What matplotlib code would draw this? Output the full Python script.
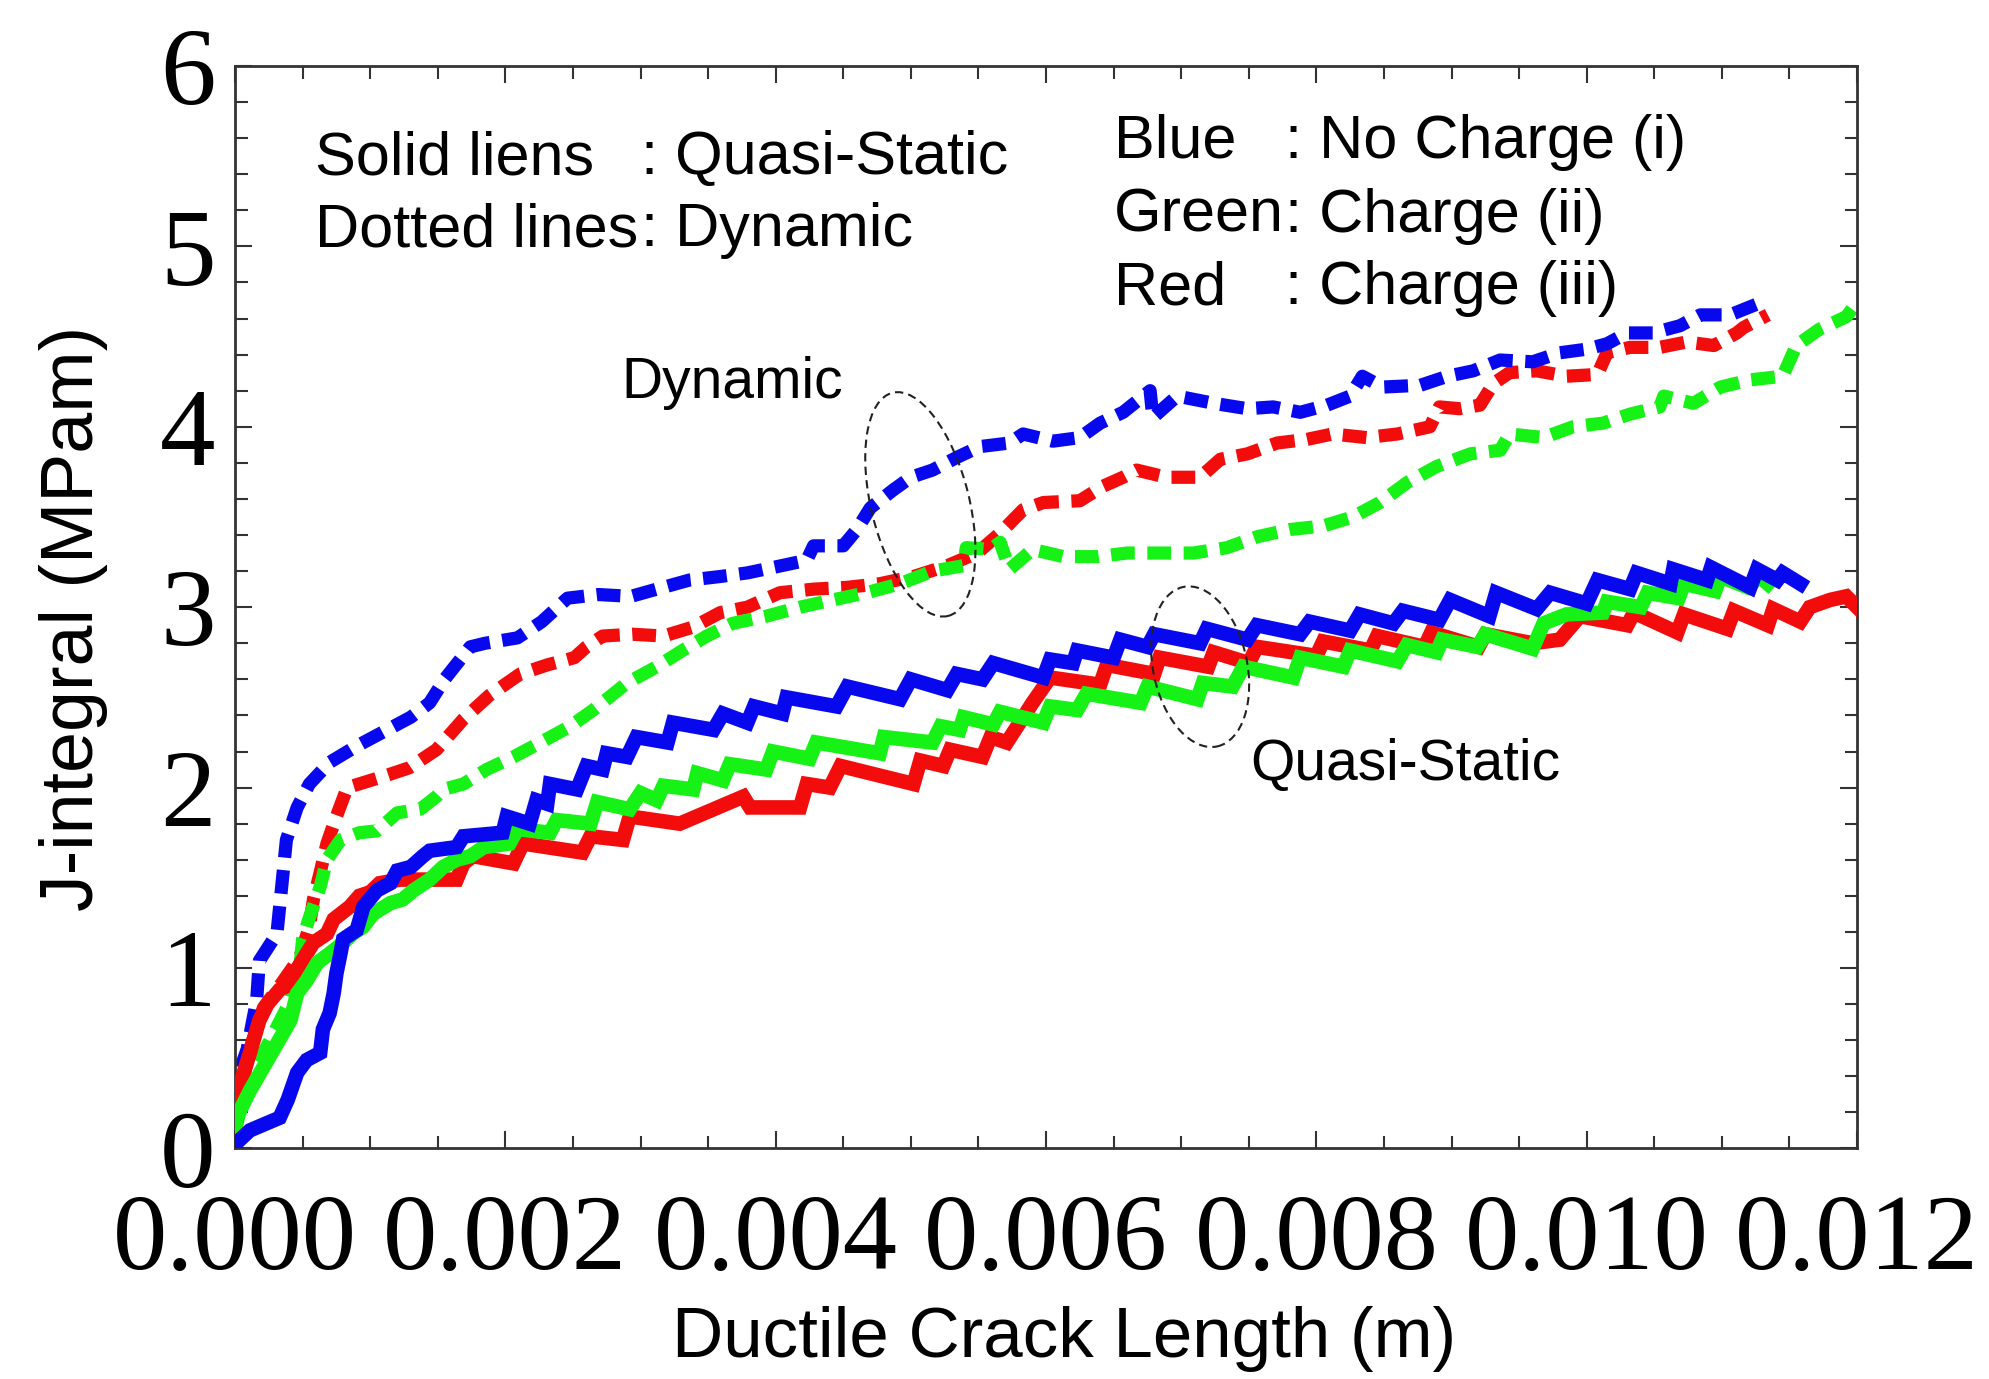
import numpy as np
import matplotlib
matplotlib.use('Agg')
import matplotlib.pyplot as plt
from matplotlib.patches import Ellipse
from matplotlib.transforms import ScaledTranslation
from matplotlib.ticker import MultipleLocator, FormatStrFormatter

plt.rcParams['font.family'] = 'Liberation Serif'

# crack length [m], J-integral [MPa m]
# dotted lines: dynamic
blue_dyn = [(0.0, 0.05), (0.00001, 0.38), (0.00009, 0.55), (0.00016, 0.82), (0.00018, 1.04),
            (0.00031, 1.19), (0.00036, 1.56), (0.00038, 1.71), (0.00046, 1.89), (0.00055, 2.02),
            (0.0007, 2.14), (0.0009, 2.23), (0.0011, 2.31), (0.0013, 2.39), (0.00144, 2.47),
            (0.00155, 2.60), (0.00174, 2.78), (0.00185, 2.80), (0.00209, 2.83), (0.00227, 2.92),
            (0.00246, 3.05), (0.00269, 3.07), (0.00293, 3.06), (0.00312, 3.10), (0.00336, 3.15),
            (0.00359, 3.17), (0.00379, 3.19), (0.00398, 3.22), (0.00423, 3.26), (0.00428, 3.34),
            (0.0045, 3.34), (0.0046, 3.43), (0.0047, 3.55), (0.00487, 3.65), (0.005, 3.72),
            (0.00516, 3.76), (0.00534, 3.83), (0.00551, 3.89), (0.00573, 3.91), (0.00583, 3.96),
            (0.00605, 3.92), (0.00625, 3.94), (0.0064, 4.02), (0.00657, 4.08), (0.00677, 4.20),
            (0.00679, 4.05), (0.00697, 4.17), (0.00724, 4.13), (0.00749, 4.10), (0.00768, 4.11),
            (0.00788, 4.08), (0.00808, 4.12), (0.00825, 4.17), (0.00834, 4.28), (0.00849, 4.22),
            (0.00877, 4.23), (0.00897, 4.28), (0.00916, 4.31), (0.00936, 4.37), (0.0096, 4.36),
            (0.0098, 4.41), (0.0100, 4.43), (0.01015, 4.46), (0.0103, 4.52), (0.01049, 4.52),
            (0.01069, 4.56), (0.01084, 4.62), (0.01106, 4.62), (0.01126, 4.68), (0.0113, 4.67)]

red_dyn = [(0.0, 0.15), (0.00004, 0.31), (0.00011, 0.55), (0.00021, 0.78), (0.00033, 0.90),
           (0.00048, 1.06), (0.00055, 1.23), (0.00058, 1.38), (0.00063, 1.53), (0.00068, 1.69),
           (0.00075, 1.84), (0.00083, 2.00), (0.00109, 2.06), (0.00129, 2.11), (0.00149, 2.21),
           (0.00169, 2.38), (0.00188, 2.51), (0.00211, 2.63), (0.00231, 2.68), (0.00251, 2.72),
           (0.0026, 2.78), (0.00272, 2.84), (0.00294, 2.85), (0.00317, 2.84), (0.00339, 2.89),
           (0.00359, 2.97), (0.00379, 3.00), (0.00403, 3.08), (0.00428, 3.10), (0.00453, 3.11),
           (0.00477, 3.13), (0.00502, 3.17), (0.00527, 3.23), (0.00549, 3.30), (0.00566, 3.41),
           (0.00583, 3.54), (0.00598, 3.58), (0.00625, 3.59), (0.00642, 3.67), (0.00657, 3.72),
           (0.00667, 3.76), (0.00689, 3.72), (0.00714, 3.72), (0.00729, 3.82), (0.00749, 3.85),
           (0.00771, 3.91), (0.00793, 3.93), (0.00812, 3.96), (0.00837, 3.94), (0.0086, 3.96),
           (0.00884, 4.00), (0.00891, 4.11), (0.00906, 4.10), (0.00921, 4.12), (0.00931, 4.24),
           (0.00943, 4.30), (0.00963, 4.31), (0.00985, 4.28), (0.01008, 4.29), (0.01015, 4.41),
           (0.01032, 4.44), (0.01054, 4.44), (0.01074, 4.47), (0.01094, 4.45), (0.01111, 4.52),
           (0.01116, 4.55), (0.01134, 4.62)]

green_dyn = [(0.0, 0.1), (0.00004, 0.21), (0.00013, 0.42), (0.00026, 0.60), (0.00041, 0.82),
             (0.00048, 1.01), (0.0005, 1.16), (0.00055, 1.28), (0.00063, 1.45), (0.00068, 1.60),
             (0.00078, 1.71), (0.00092, 1.75), (0.00105, 1.76), (0.0012, 1.86), (0.00137, 1.88),
             (0.00149, 1.95), (0.00154, 1.99), (0.00169, 2.02), (0.00186, 2.10), (0.00206, 2.17),
             (0.00226, 2.25), (0.00248, 2.34), (0.00265, 2.43), (0.0029, 2.58), (0.00312, 2.67),
             (0.00331, 2.76), (0.00349, 2.84), (0.00368, 2.91), (0.00393, 2.95), (0.00418, 3.00),
             (0.00442, 3.04), (0.00467, 3.08), (0.00492, 3.13), (0.00516, 3.20), (0.00539, 3.23),
             (0.00541, 3.33), (0.00559, 3.32), (0.00566, 3.36), (0.00573, 3.21), (0.0059, 3.32),
             (0.00613, 3.28), (0.00638, 3.28), (0.0066, 3.30), (0.00684, 3.30), (0.00709, 3.30),
             (0.00734, 3.33), (0.00756, 3.39), (0.0078, 3.43), (0.00805, 3.45), (0.00827, 3.50),
             (0.00847, 3.58), (0.00867, 3.69), (0.00889, 3.78), (0.00914, 3.85), (0.00936, 3.87),
             (0.00943, 3.96), (0.00968, 3.94), (0.0099, 4.00), (0.01012, 4.02), (0.01032, 4.07),
             (0.01054, 4.11), (0.01057, 4.17), (0.01079, 4.13), (0.01099, 4.22), (0.01121, 4.26),
             (0.01145, 4.28), (0.01155, 4.45), (0.01172, 4.54), (0.01192, 4.61), (0.012, 4.69)]

# solid lines: quasi-static
blue_qs = [(0.0, 0.0), (0.00001, 0.03), (0.00011, 0.10), (0.00033, 0.17), (0.00039, 0.27),
           (0.00046, 0.42), (0.00053, 0.49), (0.00063, 0.53), (0.00065, 0.66), (0.0007, 0.75),
           (0.00073, 0.86), (0.00075, 0.97), (0.00078, 1.08), (0.0008, 1.16), (0.0009, 1.21),
           (0.00095, 1.34), (0.00105, 1.43), (0.00115, 1.47), (0.0012, 1.54), (0.0013, 1.56),
           (0.00139, 1.62), (0.00144, 1.65), (0.00164, 1.67), (0.00169, 1.73), (0.00198, 1.75),
           (0.00201, 1.84), (0.00218, 1.80), (0.00223, 1.93), (0.00231, 1.91), (0.00233, 2.02),
           (0.00253, 1.99), (0.0026, 2.12), (0.00272, 2.10), (0.00275, 2.19), (0.0029, 2.17),
           (0.00297, 2.28), (0.0032, 2.25), (0.00324, 2.36), (0.00354, 2.32), (0.00361, 2.41),
           (0.00379, 2.36), (0.00384, 2.45), (0.00405, 2.41), (0.00408, 2.50), (0.00445, 2.45),
           (0.00453, 2.56), (0.00492, 2.49), (0.005, 2.60), (0.00527, 2.54), (0.00534, 2.63),
           (0.00553, 2.60), (0.00561, 2.69), (0.00598, 2.61), (0.00603, 2.71), (0.0062, 2.69),
           (0.00623, 2.76), (0.0065, 2.72), (0.00655, 2.82), (0.00675, 2.78), (0.0068, 2.85),
           (0.00714, 2.80), (0.00719, 2.88), (0.00749, 2.82), (0.00756, 2.90), (0.00788, 2.85),
           (0.00795, 2.92), (0.00825, 2.87), (0.00832, 2.96), (0.00857, 2.91), (0.00864, 2.98),
           (0.00891, 2.93), (0.00899, 3.04), (0.00928, 2.95), (0.00933, 3.08), (0.00963, 2.99),
           (0.00973, 3.08), (0.01, 3.02), (0.01008, 3.15), (0.01032, 3.10), (0.01037, 3.19),
           (0.01062, 3.13), (0.01064, 3.21), (0.01089, 3.15), (0.01092, 3.22), (0.01121, 3.11),
           (0.01126, 3.21), (0.01141, 3.15), (0.01145, 3.19), (0.01158, 3.13)]

green_qs = [(0.0, 0.05), (0.00001, 0.17), (0.00011, 0.32), (0.00021, 0.45), (0.00031, 0.58),
            (0.00041, 0.71), (0.00046, 0.86), (0.00053, 0.93), (0.00061, 1.03), (0.0007, 1.08),
            (0.0008, 1.14), (0.00087, 1.19), (0.00095, 1.23), (0.00102, 1.30), (0.00115, 1.36),
            (0.00124, 1.38), (0.00132, 1.43), (0.00144, 1.49), (0.00154, 1.56), (0.00164, 1.60),
            (0.00174, 1.62), (0.00184, 1.67), (0.00203, 1.69), (0.00209, 1.77), (0.00233, 1.75),
            (0.00238, 1.82), (0.00263, 1.80), (0.00268, 1.92), (0.00292, 1.88), (0.003, 1.97),
            (0.00312, 1.93), (0.00317, 2.01), (0.00339, 1.99), (0.00342, 2.08), (0.00361, 2.04),
            (0.00366, 2.13), (0.00393, 2.10), (0.00398, 2.20), (0.00425, 2.16), (0.0043, 2.25),
            (0.00477, 2.19), (0.0048, 2.28), (0.00516, 2.25), (0.00522, 2.34), (0.00536, 2.32),
            (0.00539, 2.39), (0.00561, 2.35), (0.00566, 2.42), (0.00598, 2.36), (0.00603, 2.45),
            (0.00623, 2.43), (0.0063, 2.52), (0.0067, 2.47), (0.00675, 2.56), (0.00712, 2.49),
            (0.00716, 2.58), (0.00738, 2.56), (0.00746, 2.67), (0.00783, 2.61), (0.00788, 2.72),
            (0.0082, 2.67), (0.00825, 2.76), (0.0086, 2.70), (0.00867, 2.79), (0.00889, 2.75),
            (0.00893, 2.82), (0.00919, 2.78), (0.00925, 2.85), (0.0096, 2.77), (0.00968, 2.91),
            (0.00985, 2.96), (0.01012, 2.97), (0.01015, 3.03), (0.0104, 3.00), (0.01045, 3.08),
            (0.01068, 3.05), (0.01072, 3.13), (0.01095, 3.09), (0.01099, 3.17), (0.01119, 3.11),
            (0.01128, 3.17), (0.01134, 3.13)]

red_qs = [(0.0, 0.1), (0.00004, 0.36), (0.00011, 0.53), (0.00018, 0.71), (0.00024, 0.80),
          (0.00033, 0.88), (0.00038, 0.90), (0.00058, 1.14), (0.00068, 1.19), (0.00073, 1.27),
          (0.00085, 1.34), (0.00092, 1.40), (0.001, 1.42), (0.00107, 1.47), (0.00122, 1.49),
          (0.00164, 1.49), (0.00169, 1.58), (0.00176, 1.62), (0.00206, 1.58), (0.00213, 1.69),
          (0.00257, 1.64), (0.00263, 1.73), (0.00287, 1.71), (0.00292, 1.84), (0.00329, 1.80),
          (0.00376, 1.95), (0.00381, 1.89), (0.00418, 1.89), (0.00423, 2.02), (0.0044, 2.00),
          (0.00448, 2.12), (0.00502, 2.02), (0.00507, 2.15), (0.00524, 2.12), (0.00529, 2.21),
          (0.00553, 2.17), (0.00559, 2.28), (0.00571, 2.25), (0.0059, 2.47), (0.00603, 2.61),
          (0.0064, 2.57), (0.00645, 2.68), (0.0068, 2.63), (0.00684, 2.72), (0.0072, 2.67),
          (0.00724, 2.75), (0.0075, 2.69), (0.00756, 2.78), (0.0080, 2.73), (0.00805, 2.81),
          (0.0084, 2.76), (0.00845, 2.84), (0.0088, 2.78), (0.00885, 2.86), (0.0092, 2.78),
          (0.00925, 2.85), (0.0096, 2.80), (0.0098, 2.82), (0.00995, 2.95), (0.0103, 2.90),
          (0.01035, 2.97), (0.01067, 2.86), (0.01072, 2.96), (0.01104, 2.88), (0.01109, 2.98),
          (0.01134, 2.90), (0.01138, 2.99), (0.01158, 2.92), (0.01165, 3.00), (0.0118, 3.04),
          (0.01192, 3.06), (0.012, 3.00)]

BLUE = '#0808ee'
RED = '#f20c0c'
GREEN = '#16f216'
SANS = 'Liberation Sans'

fig = plt.figure(figsize=(19.9, 13.79), dpi=100)
ax = fig.add_axes([0.1181, 0.1672, 0.8151, 0.785])

for pts, c in [(red_dyn, RED), (green_dyn, GREEN), (blue_dyn, BLUE)]:
    x, y = np.array(pts).T
    ax.plot(x, y, color=c, lw=9.5, linestyle=(0, (1.8, 0.95)), dash_capstyle='butt', zorder=2)

for pts, c in [(red_qs, RED), (green_qs, GREEN), (blue_qs, BLUE)]:
    x, y = np.array(pts).T
    ax.plot(x, y, color=c, lw=10.5, solid_joinstyle='miter', zorder=3)

# dashed ellipses round the two groups
def ring(cx, cy, w, h, ang):
    tr = fig.dpi_scale_trans + ScaledTranslation(cx, cy, ax.transData)
    ax.add_patch(Ellipse((0, 0), w, h, angle=ang, fill=False, lw=1.5, ec='#222222',
                         linestyle=(0, (4, 2.5)), transform=tr, zorder=4))

ring(0.00507, 3.57, 0.98, 2.30, 14)
ring(0.00714, 2.67, 0.94, 1.63, 12)

ax.text(0.00286, 4.16, 'Dynamic', fontsize=41, family=SANS)
ax.text(0.00751, 2.04, 'Quasi-Static', fontsize=41, family=SANS)

# key text
fs = 44
ax.text(0.000592, 5.40, 'Solid liens', fontsize=fs, family=SANS)
ax.text(0.0030, 5.40, ': Quasi-Static', fontsize=fs, family=SANS)
ax.text(0.000592, 5.00, 'Dotted lines', fontsize=fs, family=SANS)
ax.text(0.0030, 5.00, ': Dynamic', fontsize=fs, family=SANS)
ax.text(0.0065, 5.49, 'Blue', fontsize=fs, family=SANS)
ax.text(0.00777, 5.49, ': No Charge (i)', fontsize=fs, family=SANS)
ax.text(0.0065, 5.08, 'Green', fontsize=fs, family=SANS)
ax.text(0.00777, 5.08, ': Charge (ii)', fontsize=fs, family=SANS)
ax.text(0.0065, 4.68, 'Red', fontsize=fs, family=SANS)
ax.text(0.00777, 4.68, ': Charge (iii)', fontsize=fs, family=SANS)

ax.set_xlim(0, 0.012)
ax.set_ylim(0, 6)
ax.xaxis.set_major_locator(MultipleLocator(0.002))
ax.xaxis.set_minor_locator(MultipleLocator(0.0005))
ax.yaxis.set_major_locator(MultipleLocator(1))
ax.yaxis.set_minor_locator(MultipleLocator(0.2))
ax.xaxis.set_major_formatter(FormatStrFormatter('%.3f'))
ax.yaxis.set_major_formatter(FormatStrFormatter('%d'))

ax.tick_params(which='both', direction='in', top=True, right=True, width=1.5, color='#333333')
ax.tick_params(which='major', length=12)
ax.tick_params(which='minor', length=9)
ax.tick_params(axis='x', labelsize=78, pad=33)
ax.tick_params(axis='y', labelsize=80, pad=14)
for s in ax.spines.values():
    s.set_linewidth(2)
    s.set_color('#333333')

ax.set_xlabel('Ductile Crack Length (m)', fontsize=51, family=SANS)
ax.xaxis.set_label_coords(0.511, -0.146)
ax.set_ylabel('J-integral (MPam)', fontsize=53, family=SANS)
ax.yaxis.set_label_coords(-0.078, 0.49)

fig.savefig('out.png', dpi=100)
